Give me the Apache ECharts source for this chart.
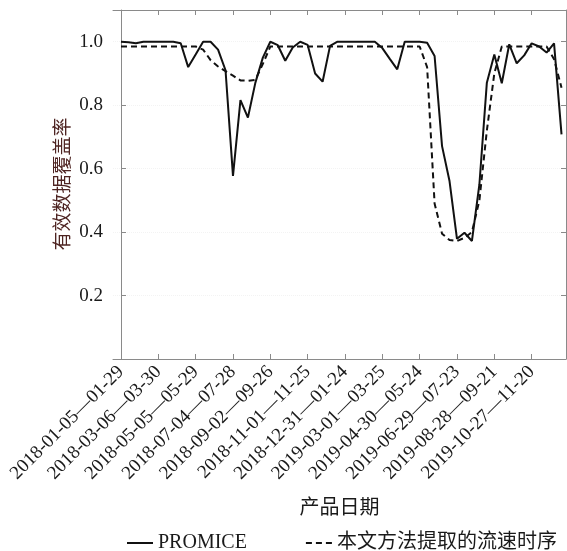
<!DOCTYPE html>
<html>
<head>
<meta charset="utf-8">
<script src="https://cdn.jsdelivr.net/npm/echarts@6/dist/echarts.min.js"></script>
<style>
html,body{margin:0;padding:0;background:#fff;}
#c{width:567px;height:551px;}
</style>
</head>
<body>
<div id="c"></div>
<script>
const tickLabels = ['2018-01-05—01-29','2018-03-06—03-30','2018-05-05—05-29','2018-07-04—07-28','2018-09-02—09-26','2018-11-01—11-25','2018-12-31—01-24','2019-03-01—03-25','2019-04-30—05-24','2019-06-29—07-23','2019-08-28—09-21','2019-10-27—11-20'];
const tickIndex = [0,5,10,15,20,25,30,35,40,45,50,55];
const seriesNames = ['PROMICE','本文方法提取的流速时序'];
const yAxisTitle = '有效数据覆盖率';
const xAxisTitle = '产品日期';
const promice = [1.0,0.998,0.995,1.0,1.0,1.0,1.0,1.0,0.995,0.92,
  0.96,1.0,1.0,0.975,0.91,0.577,0.816,0.761,0.871,0.95,
  1.0,0.989,0.94,0.982,1.0,0.99,0.90,0.874,0.987,1.0,
  1.0,1.0,1.0,1.0,1.0,0.98,0.946,0.913,1.0,1.0,
  1.0,0.997,0.955,0.671,0.561,0.379,0.398,0.372,0.55,0.871,
  0.96,0.869,0.992,0.932,0.957,0.995,0.985,0.966,0.995,0.708];
const extracted = [0.985,0.985,0.985,0.985,0.985,0.985,0.985,0.985,0.985,0.985,
  0.985,0.975,0.942,0.922,0.907,0.893,0.878,0.877,0.88,0.93,
  0.985,0.985,0.985,0.985,0.985,0.985,0.985,0.985,0.985,0.985,
  0.985,0.985,0.985,0.985,0.985,0.985,0.985,0.985,0.985,0.985,
  0.985,0.92,0.49,0.395,0.375,0.372,0.382,0.40,0.50,0.72,
  0.90,0.985,0.985,0.985,0.985,0.985,0.985,0.985,0.945,0.855];

const serif = '"Liberation Serif", "Noto Sans CJK SC", serif';
const axisGray = '#8a8a8a';
const chart = echarts.init(document.getElementById('c'));
const toPairs = arr => arr.map((v,i)=>[i,v]);
const labelMap = {};
tickIndex.forEach((t,k)=>{labelMap[t]=tickLabels[k];});

chart.setOption({
  animation:false,
  backgroundColor:'#fff',
  grid:{left:113,right:1,top:10,bottom:192,containLabel:false},
  graphic:[{
    type:'text', x:64, y:184, rotation:Math.PI/2, silent:true,
    style:{text:yAxisTitle, fontFamily:serif, fontSize:19, fill:'#4e2422',
      align:'center', verticalAlign:'middle'}
  }],
  xAxis:[{
    type:'value', min:-1.07, max:59.6, position:'bottom',
    name:xAxisTitle, nameLocation:'middle', nameGap:140,
    nameTextStyle:{fontFamily:serif, fontSize:20, color:'#1a1a1a'},
    axisLine:{show:true, lineStyle:{color:axisGray, width:1}},
    axisTick:{show:true, inside:true, length:5, customValues:tickIndex, lineStyle:{color:axisGray}},
    axisLabel:{show:true, customValues:tickIndex, rotate:45, margin:10,
      fontFamily:serif, fontSize:19, color:'#1a1a1a',
      formatter:v=>labelMap[Math.round(v)]||''},
    splitLine:{show:false}
  },{
    type:'value', min:-1.07, max:59.6, position:'top',
    axisLine:{show:true, onZero:false, lineStyle:{color:axisGray, width:1}},
    axisTick:{show:true, inside:true, length:5, customValues:tickIndex, lineStyle:{color:axisGray}},
    axisLabel:{show:false}, splitLine:{show:false}
  }],
  yAxis:[{
    type:'value', min:0, max:1.1, interval:0.2, position:'left',
    axisLine:{show:true, lineStyle:{color:axisGray, width:1}},
    axisTick:{show:true, inside:true, length:5, lineStyle:{color:axisGray}},
    axisLabel:{show:true, showMinLabel:false, showMaxLabel:false, margin:10, fontFamily:serif, fontSize:19, color:'#1a1a1a',
      formatter:v=>v.toFixed(1)},
    splitLine:{show:true, lineStyle:{color:'#f3f3f3', type:'dotted'}}
  },{
    type:'value', min:0, max:1.1, interval:0.2, position:'right',
    axisLine:{show:true, onZero:false, lineStyle:{color:axisGray, width:1}},
    axisTick:{show:true, inside:true, length:5, lineStyle:{color:axisGray}},
    axisLabel:{show:false}, splitLine:{show:false}
  }],
  legend:{
    top:528, left:121, itemGap:58, itemWidth:26, itemHeight:10,
    itemStyle:{opacity:0},
    textStyle:{fontFamily:serif, fontSize:20, color:'#1a1a1a'},
    data:seriesNames
  },
  series:[{
    name:seriesNames[0], type:'line', symbol:'none', xAxisIndex:0, yAxisIndex:0,
    data:toPairs(promice),
    lineStyle:{color:'#111', width:2, type:'solid'}, itemStyle:{color:'#111'}
  },{
    name:seriesNames[1], type:'line', symbol:'none', xAxisIndex:0, yAxisIndex:0,
    data:toPairs(extracted),
    lineStyle:{color:'#111', width:2, type:[6,4]}, itemStyle:{color:'#111'}
  }]
});
</script>
</body>
</html>
